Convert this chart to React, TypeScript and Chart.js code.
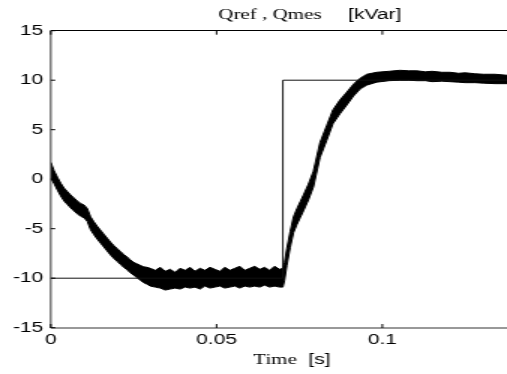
import React, { useEffect, useRef } from "react";
import { Chart, registerables } from "chart.js";

Chart.register(...registerables);

// ---------- data ----------
const xTicks = [0, 0.05, 0.1];
const yTicks = [-15, -10, -5, 0, 5, 10, 15];

const qrefTime = [0, 0.07, 0.07, 0.1376];
const qrefValue = [-10, -10, 10, 10];

const qmesTime = [
  0, 0.001, 0.002, 0.003, 0.004, 0.005, 0.006, 0.007, 0.008, 0.009, 0.01, 0.011, 0.012, 0.013, 0.014,
  0.015, 0.016, 0.017, 0.018, 0.019, 0.02, 0.021, 0.022, 0.023, 0.024, 0.025, 0.026, 0.027, 0.028,
  0.029, 0.03, 0.0315, 0.033, 0.0345, 0.036, 0.0375, 0.039, 0.0405, 0.042, 0.0435, 0.045, 0.0465,
  0.048, 0.0495, 0.051, 0.0525, 0.054, 0.0555, 0.057, 0.0585, 0.06, 0.0615, 0.063, 0.0645, 0.066,
  0.0675, 0.069, 0.07, 0.0705, 0.0712, 0.0722, 0.0732, 0.0742, 0.0752, 0.0762, 0.0777, 0.0792, 0.0812,
  0.0832, 0.0851, 0.0872, 0.0893, 0.0913, 0.0933, 0.0953, 0.0983, 0.102, 0.1053, 0.108, 0.1104, 0.113,
  0.115, 0.118, 0.1204, 0.123, 0.125, 0.128, 0.1305, 0.134, 0.1376,
];
// upper edge of the measured (noisy) band
const qmesUpper = [
  1.7, 0.85, 0.2, -0.4, -0.9, -1.25, -1.6, -1.9, -2.2, -2.45, -2.6, -2.95, -3.8, -4.3, -4.75,
  -5.15, -5.55, -5.95, -6.35, -6.7, -7.0, -7.3, -7.6, -7.85, -8.15, -8.4, -8.55, -8.7, -8.85,
  -8.9, -9.0, -9.2, -8.9, -9.3, -9.1, -9.4, -9.0, -9.2, -8.9, -9.3, -9.0, -9.2,
  -8.9, -9.1, -9.3, -8.9, -9.2, -9.0, -8.8, -9.2, -9.0, -8.8, -9.1, -8.9, -9.2,
  -8.8, -9.1, -9.0, -8.4, -7.0, -5.3, -3.8, -3.0, -2.3, -1.6, -0.5, 0.8, 3.7,
  5.4, 7.0, 8.0, 8.8, 9.6, 10.2, 10.6, 10.8, 10.9, 11.0, 10.95, 10.95, 10.85,
  10.9, 10.8, 10.8, 10.7, 10.75, 10.65, 10.6, 10.6, 10.5,
];
// lower edge of the measured (noisy) band
const qmesLower = [
  0.1, -0.45, -1.1, -1.7, -2.2, -2.55, -2.9, -3.2, -3.5, -3.75, -3.9, -4.25, -5.1, -5.6, -6.05,
  -6.45, -6.85, -7.25, -7.65, -8.0, -8.3, -8.6, -8.9, -9.15, -9.45, -9.7, -9.95, -10.2, -10.45,
  -10.6, -10.8, -10.9, -11.0, -11.2, -11.1, -11.0, -11.1, -10.9, -11.0, -10.9, -11.1, -10.8,
  -11.0, -10.9, -10.8, -11.0, -10.9, -10.8, -11.0, -10.8, -10.9, -10.8, -10.9, -10.7, -10.9,
  -10.8, -10.9, -10.9, -10.2, -8.7, -6.9, -5.4, -4.6, -3.9, -3.2, -2.1, -0.8, 2.2,
  3.9, 5.6, 6.6, 7.5, 8.4, 9.1, 9.5, 9.8, 9.95, 10.0, 10.0, 9.95, 9.95,
  9.85, 9.9, 9.85, 9.8, 9.75, 9.75, 9.7, 9.65, 9.65,
];

const titleLeft = "Qref , Qmes";
const titleRight = "[kVar]";
const xLabelLeft = "Time";
const xLabelRight = "[s]";

// ---------- layout (canvas is drawn narrow and stretched horizontally) ----------
const VIEW_W = 507;
const VIEW_H = 374;
const STRETCH = 1.5;
const CANVAS_W = Math.round(VIEW_W / STRETCH);
const AREA_LEFT = 50.8 / STRETCH;
const AREA_TOP = 30.7;
const AREA_BOTTOM = 327.7;
const X_MAX = 0.1376;

const SANS = '"Liberation Sans", Arial, sans-serif';
const SERIF = '"Liberation Serif", "Times New Roman", serif';

const framePlugin = {
  id: "frame",
  afterDraw(chart: any) {
    const { ctx, chartArea: a, scales } = chart;
    const xs = scales.x;
    const ys = scales.y;
    ctx.save();
    // top border
    ctx.strokeStyle = "#000";
    ctx.lineWidth = 1;
    ctx.beginPath();
    ctx.moveTo(a.left, Math.floor(a.top) + 0.5);
    ctx.lineTo(a.right, Math.floor(a.top) + 0.5);
    ctx.stroke();
    // left and bottom axes
    ctx.strokeStyle = "#333";
    ctx.beginPath();
    ctx.moveTo(a.left, a.top);
    ctx.lineTo(a.left, Math.round(a.bottom));
    ctx.lineTo(a.right, Math.round(a.bottom));
    ctx.stroke();
    // inward ticks
    ctx.strokeStyle = "#000";
    for (const v of xTicks) {
      const px = xs.getPixelForValue(v);
      ctx.beginPath();
      ctx.moveTo(px, Math.round(a.bottom));
      ctx.lineTo(px, Math.round(a.bottom) - 4);
      ctx.moveTo(px, a.top);
      ctx.lineTo(px, a.top + 4);
      ctx.stroke();
    }
    for (const v of yTicks) {
      const py = ys.getPixelForValue(v);
      ctx.beginPath();
      ctx.moveTo(a.left, py);
      ctx.lineTo(a.left + 3, py);
      ctx.stroke();
    }
    // title and axis label
    ctx.fillStyle = "#000";
    ctx.textBaseline = "alphabetic";
    ctx.textAlign = "left";
    ctx.font = `14px ${SERIF}`;
    ctx.fillText(titleLeft, 218.3 / STRETCH, 19);
    ctx.fillText(xLabelLeft, 253.3 / STRETCH, 364);
    ctx.font = `14px ${SANS}`;
    ctx.fillText(titleRight, 348 / STRETCH, 19);
    ctx.fillText(xLabelRight, 308.3 / STRETCH, 364);
    ctx.restore();
  },
};

export default function App() {
  const ref = useRef<HTMLCanvasElement>(null);

  useEffect(() => {
    const canvas = ref.current;
    if (!canvas) return;
    const chart = new Chart(canvas, {
      type: "line",
      data: {
        datasets: [
          {
            label: "Qref",
            data: qrefTime.map((t, i) => ({ x: t, y: qrefValue[i] })),
            borderColor: "#111",
            borderWidth: 1,
            pointRadius: 0,
            fill: false,
            tension: 0,
          },
          {
            label: "Qmes upper",
            data: qmesTime.map((t, i) => ({ x: t, y: qmesUpper[i] })),
            borderColor: "#000",
            borderWidth: 1,
            pointRadius: 0,
            fill: false,
            tension: 0,
          },
          {
            label: "Qmes lower",
            data: qmesTime.map((t, i) => ({ x: t, y: qmesLower[i] })),
            borderColor: "#000",
            backgroundColor: "#000",
            borderWidth: 1,
            pointRadius: 0,
            fill: "-1",
            tension: 0,
          },
        ],
      },
      options: {
        responsive: false,
        maintainAspectRatio: false,
        animation: false,
        devicePixelRatio: 1,
        events: [],
        layout: { padding: { top: AREA_TOP, right: 0, bottom: 0, left: 0 } },
        plugins: {
          legend: { display: false },
          tooltip: { enabled: false },
          title: { display: false },
        },
        scales: {
          x: {
            type: "linear",
            min: 0,
            max: X_MAX,
            afterBuildTicks: (scale: any) => {
              scale.ticks = xTicks.map((v) => ({ value: v }));
            },
            afterFit: (scale: any) => {
              scale.height = VIEW_H - AREA_BOTTOM;
            },
            grid: { display: false, drawTicks: false },
            border: { display: false },
            ticks: {
              color: "#000",
              padding: 4,
              maxRotation: 0,
              autoSkip: false,
              font: { family: SANS, size: 14 },
              callback: (v: any) => String(v),
            },
          },
          y: {
            type: "linear",
            min: -15,
            max: 15,
            afterBuildTicks: (scale: any) => {
              scale.ticks = yTicks.map((v) => ({ value: v }));
            },
            afterFit: (scale: any) => {
              scale.width = AREA_LEFT;
            },
            grid: { display: false, drawTicks: false },
            border: { display: false },
            ticks: {
              color: "#000",
              padding: 5,
              autoSkip: false,
              font: { family: SANS, size: 14 },
              callback: (v: any) => String(v),
            },
          },
        },
      },
      plugins: [framePlugin],
    });
    return () => chart.destroy();
  }, []);

  return (
    <div
      style={{
        position: "absolute",
        left: 0,
        top: 0,
        width: VIEW_W,
        height: VIEW_H,
        background: "#fff",
      }}
    >
      <canvas
        ref={ref}
        width={CANVAS_W}
        height={VIEW_H}
        style={{ width: VIEW_W + "px", height: VIEW_H + "px", display: "block" }}
      />
    </div>
  );
}
